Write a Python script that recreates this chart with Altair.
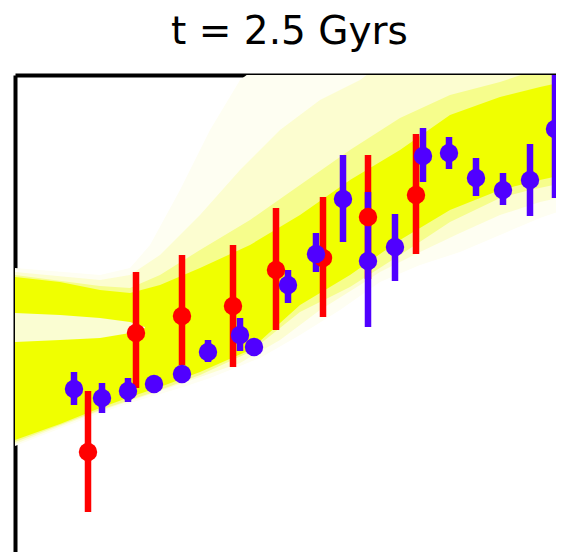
import altair as alt
import pandas as pd

# ---- measured points (x, y, error-bar low/high) ----
blue_x = [8.59, 8.87, 9.13, 9.39, 9.67, 9.93, 10.25, 10.39, 10.73, 11.01,
          11.28, 11.53, 11.80, 12.08, 12.34, 12.61, 12.88, 13.15, 13.40]
blue_y = [-1.64, -1.73, -1.66, -1.59, -1.49, -1.27, -1.10, -1.22, -0.60, -0.29,
          0.26, -0.36, -0.22, 0.69, 0.72, 0.47, 0.35, 0.45, 0.96]
blue_lo = [-1.80, -1.88, -1.77, -1.65, -1.55, -1.37, -1.26, -1.27, -0.78, -0.47,
           -0.17, -1.02, -0.56, 0.43, 0.56, 0.29, 0.20, 0.09, 0.27]
blue_hi = [-1.47, -1.58, -1.53, -1.53, -1.43, -1.15, -0.93, -1.17, -0.45, -0.08,
           0.70, 0.33, 0.11, 0.97, 0.88, 0.67, 0.52, 0.81, 1.55]

red_x = [8.73, 9.21, 9.67, 10.18, 10.61, 11.08, 11.53, 12.01]
red_y = [-2.27, -1.08, -0.91, -0.81, -0.45, -0.33, 0.08, 0.30]
red_lo = [-2.87, -1.63, -1.40, -1.42, -1.05, -0.92, -0.54, -0.29]
red_hi = [-1.66, -0.47, -0.30, -0.20, 0.17, 0.28, 0.70, 0.91]

# ---- yellow model cloud, read as density bands (outer -> core) ----
l1_x = [8.00, 8.85, 9.15, 9.35, 9.65, 9.95, 10.25, 10.45, 10.85, 11.25, 11.65, 12.05,
        12.45, 12.85, 13.25, 13.48]
l1_top = [-0.43, -0.50, -0.43, -0.20, 0.35, 0.95, 1.45, 1.60, 1.60, 1.60, 1.60, 1.60,
          1.60, 1.60, 1.60, 1.60]
l1_bot = [-2.21, -1.88, -1.78, -1.72, -1.63, -1.53, -1.41, -1.33, -1.10, -0.85, -0.57, -0.40,
          -0.27, -0.10, 0.07, 0.15]

l2_x = [8.00, 8.85, 9.15, 9.45, 9.85, 10.25, 10.65, 11.05, 11.45, 11.65, 12.05, 12.45,
        12.85, 13.25, 13.48]
l2_top = [-0.47, -0.55, -0.50, -0.30, 0.10, 0.55, 0.95, 1.25, 1.45, 1.60, 1.60, 1.60,
          1.60, 1.60, 1.60]
l2_bot = [-2.19, -1.86, -1.76, -1.66, -1.52, -1.38, -1.15, -0.85, -0.60, -0.47, -0.27, -0.08,
          0.10, 0.23, 0.28]

l3_x = [8.00, 8.85, 9.15, 9.45, 9.85, 10.35, 10.85, 11.35, 11.85, 12.35, 12.85, 13.15, 13.48]
l3_top = [-0.50, -0.61, -0.63, -0.50, -0.25, 0.05, 0.40, 0.75, 1.07, 1.30, 1.43, 1.53, 1.60]
l3_bot = [-2.17, -1.85, -1.75, -1.65, -1.50, -1.27, -0.87, -0.62, -0.30, 0.03, 0.27, 0.35, 0.42]

core_x = [8.00, 8.45, 8.85, 9.15, 9.45, 9.85, 10.35, 10.85, 11.35, 11.85, 12.35,
          12.85, 13.25, 13.48]
core_top = [-0.52, -0.57, -0.65, -0.68, -0.60, -0.43, -0.20, 0.10, 0.45, 0.75, 1.10,
            1.28, 1.38, 1.43]
core_bot = [-2.15, -1.99, -1.83, -1.72, -1.62, -1.47, -1.25, -0.80, -0.50, -0.15, 0.15,
            0.35, 0.45, 0.50]

gap_x = [8.00, 8.45, 8.85, 9.15, 9.30]
gap_top = [-0.88, -0.90, -0.93, -0.97, -1.02]
gap_bot = [-1.17, -1.15, -1.13, -1.08, -1.03]

X_DOMAIN = [8.0, 13.41]
Y_DOMAIN = [-3.27, 1.5]

blue = pd.DataFrame({"x": blue_x, "y": blue_y, "lo": blue_lo, "hi": blue_hi})
red = pd.DataFrame({"x": red_x, "y": red_y, "lo": red_lo, "hi": red_hi})
l1 = pd.DataFrame({"x": l1_x, "top": l1_top, "bot": l1_bot})
l2 = pd.DataFrame({"x": l2_x, "top": l2_top, "bot": l2_bot})
l3 = pd.DataFrame({"x": l3_x, "top": l3_top, "bot": l3_bot})
core = pd.DataFrame({"x": core_x, "top": core_top, "bot": core_bot})
gap = pd.DataFrame({"x": gap_x, "top": gap_top, "bot": gap_bot})

xs = alt.Scale(domain=X_DOMAIN, nice=False, zero=False)
ys = alt.Scale(domain=Y_DOMAIN, nice=False, zero=False)
xax = alt.Axis(orient="top", ticks=False, labels=False, grid=False, title=None,
               domainColor="black", domainWidth=4)
yax = alt.Axis(orient="left", ticks=False, labels=False, grid=False, title=None,
               domainColor="black", domainWidth=4)


def band(df, color):
    return alt.Chart(df).mark_area(color=color, clip=True, interpolate="linear").encode(
        x=alt.X("x:Q", scale=xs, axis=xax),
        y=alt.Y("top:Q", scale=ys, axis=yax),
        y2="bot:Q",
    )


def bars(df, color):
    return alt.Chart(df).mark_rule(color=color, strokeWidth=6.5, clip=True).encode(
        x=alt.X("x:Q", scale=xs, axis=xax),
        y=alt.Y("lo:Q", scale=ys, axis=yax),
        y2="hi:Q",
    )


def dots(df, color):
    return alt.Chart(df).mark_circle(color=color, size=340, opacity=1).encode(
        x=alt.X("x:Q", scale=xs, axis=xax),
        y=alt.Y("y:Q", scale=ys, axis=yax),
    )


BLUE = "#5000ff"
RED = "#ff0000"

chart = alt.layer(
    band(l1, "#fefef2"),
    band(l2, "#fcfdd0"),
    band(l3, "#f6fd8c"),
    band(core, "#f0ff00"),
    band(gap, "#fafdd2"),
    bars(red, RED),
    bars(blue, BLUE),
    dots(red, RED),
    dots(blue, BLUE),
).properties(
    width=541,
    height=477,
    title=alt.Title("t = 2.5 Gyrs", font="DejaVu Sans", fontSize=39, fontWeight="normal",
                    color="black", anchor="middle", baseline="alphabetic", offset=-8, dx=4),
    padding={"left": 7, "top": 67, "right": 0, "bottom": 0},
    autosize=alt.AutoSizeParams(type="none"),
    background="white",
).configure_view(stroke=None)

chart.save("out.html", embed_options={"renderer": "svg", "actions": False})
